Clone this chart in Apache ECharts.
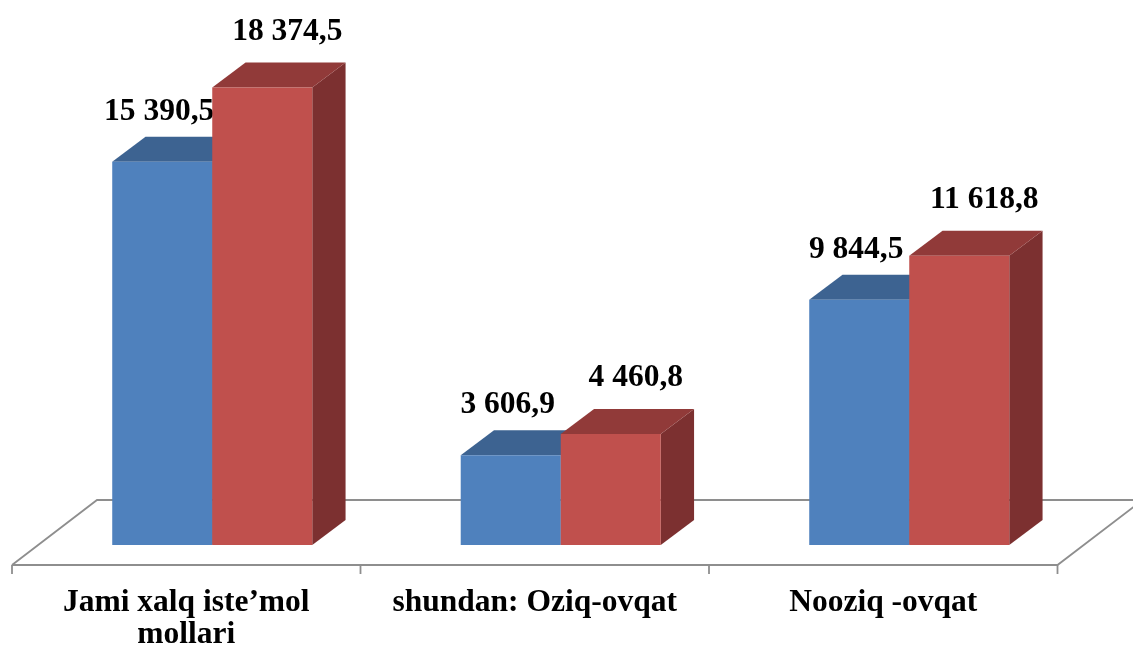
<!DOCTYPE html>
<html>
<head>
<meta charset="utf-8">
<script src="https://cdn.jsdelivr.net/npm/echarts@6/dist/echarts.min.js"></script>
<style>
html,body{margin:0;padding:0;background:#fff;}
#chart{width:1133px;height:655px;}
</style>
</head>
<body>
<div id="chart"></div>
<script>
// ---- data ----
const categories = ['Jami xalq iste\u2019mol\nmollari', 'shundan: Oziq-ovqat', 'Nooziq -ovqat'];
const seriesBlue = [15390.5, 3606.9, 9844.5];
const seriesRed = [18374.5, 4460.8, 11618.8];

// ---- helpers ----
function fmt(v) {
  const parts = v.toFixed(1).split('.');
  return parts[0].replace(/\B(?=(\d{3})+(?!\d))/g, ' ') + ',' + parts[1];
}
const FONT = 'bold 31.5px "Liberation Serif", "Times New Roman", serif';
const BAR_DX = 33.3, BAR_DY = 25;
const FLOOR_DX = 85, FLOOR_DY = 65;

const palette = [
  { front: '#4F81BD', top: '#3D6391', side: '#39597F', lx: -3, ly: 50 },
  { front: '#C0504D', top: '#913A39', side: '#7C3030', lx: 25, ly: 56 }
];

function barRenderer(idx) {
  const c = palette[idx];
  return function (params, api) {
    const ci = api.value(0), v = api.value(1);
    const base = api.coord([ci, 0]);
    const top = api.coord([ci, v]);
    const band = api.size([1, 0])[0];
    const w = band * 0.287;
    const pairC = base[0] + band * 0.0746;
    const x0 = idx === 0 ? pairC - w : pairC;
    const x1 = x0 + w;
    const ty = top[1], by = base[1];
    return {
      type: 'group',
      children: [
        { type: 'polygon', shape: { points: [[x1, ty], [x1 + BAR_DX, ty - BAR_DY], [x1 + BAR_DX, by - BAR_DY], [x1, by]] }, style: { fill: c.side } },
        { type: 'polygon', shape: { points: [[x0, ty], [x1, ty], [x1 + BAR_DX, ty - BAR_DY], [x0 + BAR_DX, ty - BAR_DY]] }, style: { fill: c.top } },
        { type: 'rect', shape: { x: x0, y: ty, width: w, height: by - ty }, style: { fill: c.front } },
        { type: 'text', x: (x0 + x1) / 2 + c.lx, y: ty - c.ly,
          style: { text: fmt(v), font: FONT, fill: '#000', align: 'center', verticalAlign: 'middle', textAlign: 'center', textVerticalAlign: 'middle' } }
      ]
    };
  };
}

function floorRenderer(params, api) {
  const cs = params.coordSys;
  const zeroY = api.coord([0, 0])[1];
  const fy = zeroY + 20;
  const x0 = cs.x, x1 = cs.x + cs.width;
  const band = api.size([1, 0])[0];
  const lineStyle = { stroke: '#8E8E8E', lineWidth: 1.8, fill: null };
  const children = [
    { type: 'polygon', shape: { points: [[x0, fy], [x0 + FLOOR_DX, fy - FLOOR_DY], [x1 + FLOOR_DX, fy - FLOOR_DY], [x1, fy]] }, style: { fill: '#fff' } },
    { type: 'polyline', shape: { points: [[x0, fy], [x0 + FLOOR_DX, fy - FLOOR_DY], [x1 + FLOOR_DX, fy - FLOOR_DY]] }, style: lineStyle },
    { type: 'polyline', shape: { points: [[x0, fy], [x1, fy], [x1 + FLOOR_DX, fy - FLOOR_DY]] }, style: lineStyle }
  ];
  for (let i = 0; i <= categories.length; i++) {
    const x = x0 + i * band;
    children.push({ type: 'line', shape: { x1: x, y1: fy, x2: x, y2: fy + 9 }, style: { stroke: '#8E8E8E', lineWidth: 1.8 } });
  }
  return { type: 'group', children };
}

const chart = echarts.init(document.getElementById('chart'), null, { renderer: 'canvas' });
chart.setOption({
  animation: false,
  backgroundColor: '#fff',
  grid: { left: 12, right: 75.5, top: 47, bottom: 110, containLabel: false },
  xAxis: {
    type: 'category',
    data: categories,
    axisLine: { show: false },
    axisTick: { show: false },
    axisLabel: {
      interval: 0,
      margin: 42,
      fontSize: 31.5,
      fontWeight: 'bold',
      fontFamily: '"Liberation Serif", "Times New Roman", serif',
      color: '#000',
      lineHeight: 32
    }
  },
  yAxis: { type: 'value', min: 0, max: 20000, show: false, splitLine: { show: false } },
  series: [
    { type: 'custom', name: 'floor', renderItem: floorRenderer, data: [[0, 0]], z: 1, silent: true },
    { type: 'custom', name: 'A', renderItem: barRenderer(0), data: seriesBlue.map((v, i) => [i, v]), z: 2 },
    { type: 'custom', name: 'B', renderItem: barRenderer(1), data: seriesRed.map((v, i) => [i, v]), z: 3 }
  ]
});
</script>
</body>
</html>
